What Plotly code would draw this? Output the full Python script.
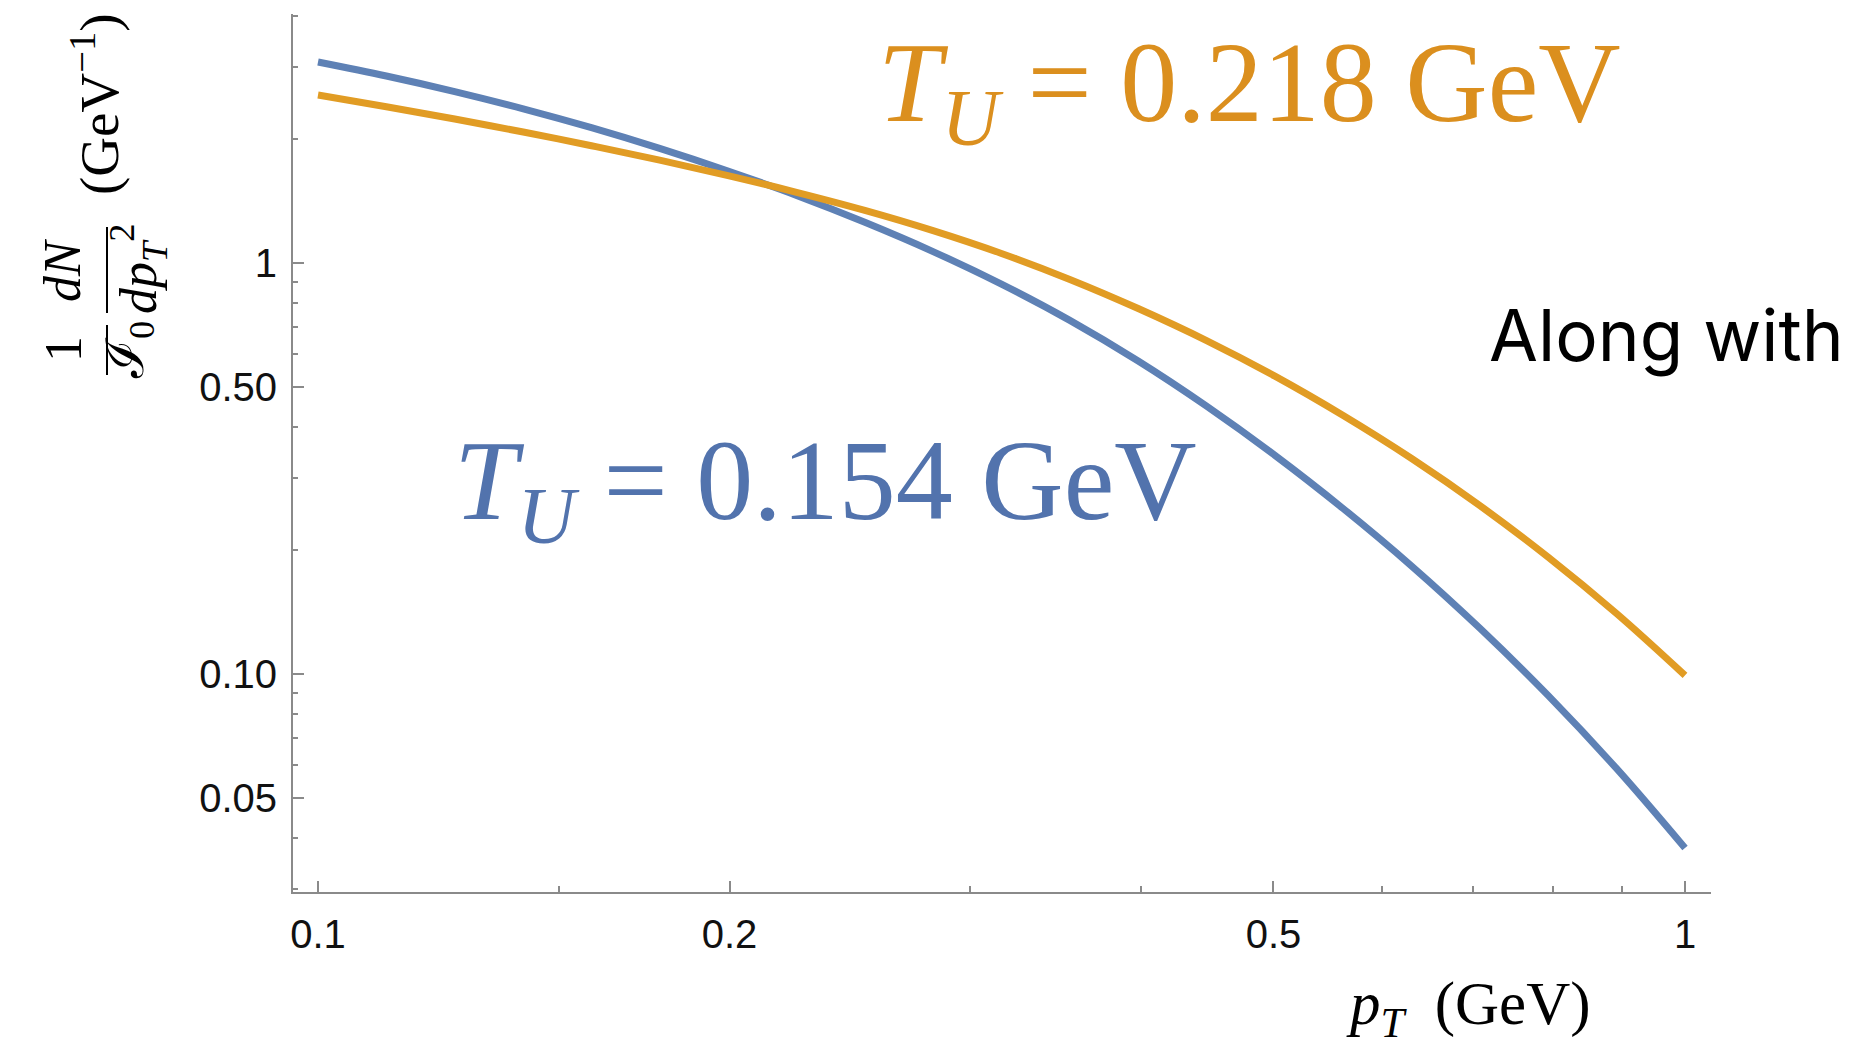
import plotly.graph_objects as go

# ---------------- data (evenly spaced in log pT) ----------------
pt = [0.1, 0.1122, 0.1259, 0.1413, 0.1585, 0.1778, 0.1995, 0.2239, 0.2512, 0.2818, 0.3162,
      0.3548, 0.3981, 0.4467, 0.5012, 0.5623, 0.6310, 0.7079, 0.7943, 0.8913, 1.0]
spec_T154 = [3.084, 2.851, 2.613, 2.372, 2.134, 1.900, 1.674, 1.460, 1.256, 1.066, 0.8883,
             0.7251, 0.5774, 0.4484, 0.3404, 0.2526, 0.1831, 0.1292, 0.08859, 0.05883, 0.03772]
spec_T218 = [2.563, 2.400, 2.240, 2.083, 1.929, 1.779, 1.632, 1.486, 1.343, 1.199, 1.055,
             0.9122, 0.7750, 0.6476, 0.5306, 0.4256, 0.3345, 0.2569, 0.1923, 0.1402, 0.0992]

x_major = [0.1, 0.2, 0.5, 1]
x_major_text = ["0.1", "0.2", "0.5", "1"]
x_minor = [0.15, 0.3, 0.4, 0.6, 0.7, 0.8, 0.9]
y_major = [0.05, 0.1, 0.5, 1]
y_major_text = ["0.05", "0.10", "0.50", "1"]
y_minor = [0.03, 0.04, 0.06, 0.07, 0.08, 0.09, 0.2, 0.3, 0.4, 0.6, 0.7, 0.8, 0.9, 2, 3, 4]

label_T154 = "<i>T</i><sub><i>U</i></sub> = 0.154 GeV"
label_T218 = "<i>T</i><sub><i>U</i></sub> = 0.218 GeV"
side_text = "Along with"

# ---------------- layout geometry ----------------
# the page body has an 8 px margin, so the figure is 16 px smaller than the window
M = 8
W, H = 1863 - 2 * M, 1051 - 2 * M
# plot area in page pixels: x 293..1711, y 14..892
L = 293 - M
T = 14 - M
R = W - (1711 - M)
B = H - (892 - M)
PW, PH = W - L - R, H - T - B

def px(xp):  # page pixel -> paper x
    return (xp - M - L) / PW

def py(yp):  # page pixel -> paper y
    return (H - B - (yp - M)) / PH

BLUE = "#5E81B5"
ORANGE = "#E19C24"
BLUE_TXT = "#5273AD"
ORANGE_TXT = "#DB8F1E"
AXIS = "#8a8a8a"
SERIF = "Liberation Serif, DejaVu Serif, serif"

fig = go.Figure()
fig.add_trace(go.Scatter(x=pt, y=spec_T154, mode="lines",
                         line=dict(color=BLUE, width=7, shape="spline", smoothing=1.0),
                         showlegend=False, hoverinfo="skip"))
fig.add_trace(go.Scatter(x=pt, y=spec_T218, mode="lines",
                         line=dict(color=ORANGE, width=7, shape="spline", smoothing=1.0),
                         showlegend=False, hoverinfo="skip"))

tickfont = dict(family="Liberation Sans, Arial, sans-serif", size=40, color="#111111")

fig.update_xaxes(type="log", range=[-1.01829, 0.01902], showgrid=False, zeroline=False,
                 showline=True, linecolor=AXIS, linewidth=2,
                 tickmode="array", tickvals=x_major, ticktext=x_major_text,
                 ticks="inside", ticklen=11, tickwidth=2, tickcolor=AXIS,
                 tickfont=tickfont, ticklabelstandoff=6,
                 minor=dict(tickmode="array", tickvals=x_minor, ticks="inside", ticklen=6,
                            tickwidth=1.5, tickcolor=AXIS, showgrid=False))
fig.update_yaxes(type="log", range=[-1.5304, 0.6058], showgrid=False, zeroline=False,
                 showline=True, linecolor=AXIS, linewidth=2,
                 tickmode="array", tickvals=y_major, ticktext=y_major_text,
                 ticks="inside", ticklen=11, tickwidth=2, tickcolor=AXIS,
                 tickfont=tickfont, ticklabelstandoff=6,
                 minor=dict(tickmode="array", tickvals=y_minor, ticks="inside", ticklen=5,
                            tickwidth=1.5, tickcolor=AXIS, showgrid=False))

ann = []
# curve labels
ann.append(dict(text=label_T218, x=px(876), y=py(91), xref="paper", yref="paper",
                xanchor="left", yanchor="middle", showarrow=False,
                font=dict(family=SERIF, size=114, color=ORANGE_TXT)))
ann.append(dict(text=label_T154, x=px(452), y=py(489), xref="paper", yref="paper",
                xanchor="left", yanchor="middle", showarrow=False,
                font=dict(family=SERIF, size=114, color=BLUE_TXT)))
# side text
ann.append(dict(text=side_text, x=px(1487), y=py(335), xref="paper", yref="paper",
                xanchor="left", yanchor="middle", showarrow=False,
                font=dict(family="Inter, Open Sans, sans-serif", size=71, color="#000000")))
# x axis title
ann.append(dict(text="<i>p</i><sub><i>T</i></sub>\u2002(GeV)", x=px(1468), y=py(1008),
                xref="paper", yref="paper", xanchor="center", yanchor="middle", showarrow=False,
                font=dict(family=SERIF, size=61, color="#000000")))
# y axis title pieces (rotated)
yfont = dict(family=SERIF, size=52, color="#000000")
ann.append(dict(text="1", x=px(63), y=py(349), xref="paper", yref="paper", textangle=-90,
                xanchor="center", yanchor="middle", showarrow=False, font=yfont))
ann.append(dict(text="ℐ<sub>0</sub>", x=px(130), y=py(350), xref="paper", yref="paper", textangle=-90,
                xanchor="center", yanchor="middle", showarrow=False, font=yfont))
ann.append(dict(text="<i>dN</i>", x=px(62), y=py(270), xref="paper", yref="paper", textangle=-90,
                xanchor="center", yanchor="middle", showarrow=False, font=yfont))
ann.append(dict(text="<i>dp</i><sub><i>T</i></sub><sup>2</sup>", x=px(138), y=py(269),
                xref="paper", yref="paper", textangle=-90, xanchor="center", yanchor="middle",
                showarrow=False, font=yfont))
ann.append(dict(text="(GeV<sup>−1</sup>)", x=px(96), y=py(105), xref="paper", yref="paper", textangle=-90,
                xanchor="center", yanchor="middle", showarrow=False,
                font=dict(family=SERIF, size=55, color="#000000")))

shapes = [
    dict(type="line", xref="paper", yref="paper", x0=px(107), x1=px(107), y0=py(325), y1=py(375),
         line=dict(color="#000000", width=2)),
    dict(type="line", xref="paper", yref="paper", x0=px(107), x1=px(107), y0=py(227), y1=py(313),
         line=dict(color="#000000", width=2)),
]

fig.update_layout(width=W, height=H, margin=dict(l=L, r=R, t=T, b=B, autoexpand=False),
                  paper_bgcolor="white", plot_bgcolor="white",
                  annotations=ann, shapes=shapes, showlegend=False)

fig.write_html("out.html")
